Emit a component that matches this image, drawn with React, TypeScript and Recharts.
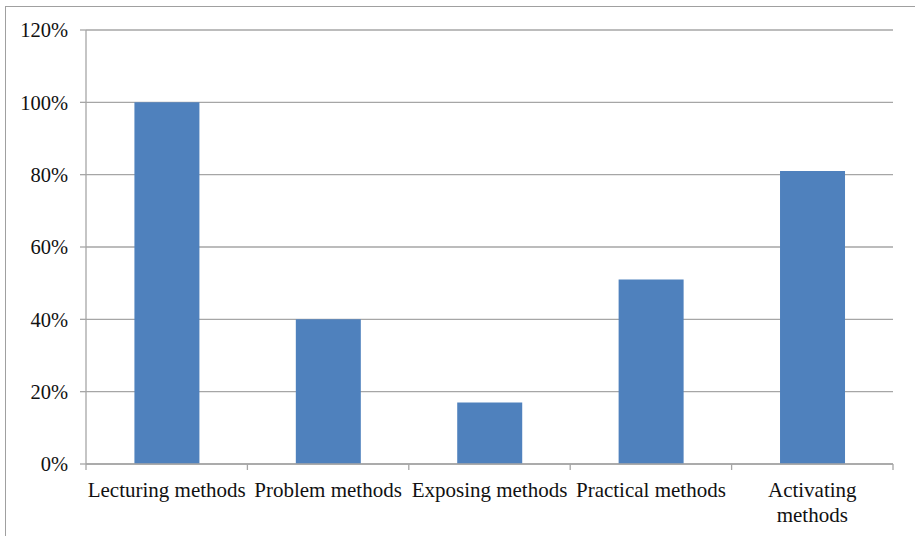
import React from 'react';
import { BarChart, Bar, XAxis, YAxis, CartesianGrid } from 'recharts';

// data
const categories = ['Lecturing methods', 'Problem methods', 'Exposing methods', 'Practical methods', 'Activating methods'];
const shares = [100, 40, 17, 51, 81];
const tickLabels = [['Lecturing methods'], ['Problem methods'], ['Exposing methods'], ['Practical methods'], ['Activating', 'methods']];
const yTicks = [0, 20, 40, 60, 80, 100, 120];

const data = categories.map((name, i) => ({ name, value: shares[i] }));

const FONT = '"Liberation Serif", "DejaVu Serif", serif';
const GRID = '#a6a6a6';

const CategoryTick = (props: any) => {
  const { x, y, payload, index } = props;
  const half = payload && payload.offset ? payload.offset : 80.7;
  const lines = tickLabels[index] || [String(payload.value)];
  return (
    <g>
      <line x1={x - half} x2={x - half} y1={y - 8} y2={y - 2} stroke={GRID} strokeWidth={1.3} />
      {index === categories.length - 1 && (
        <line x1={x + half} x2={x + half} y1={y - 8} y2={y - 2} stroke={GRID} strokeWidth={1.3} />
      )}
      <text x={x} y={y + 25} textAnchor="middle" fontFamily={FONT} fontSize={21} fill="#111">
        {lines.map((l: string, i: number) => (
          <tspan key={i} x={x} dy={i === 0 ? 0 : 25}>{l}</tspan>
        ))}
      </text>
    </g>
  );
};

export default function App() {
  return (
    <div style={{ position: 'absolute', left: 0, top: 0, width: 915, height: 536, background: '#fff', overflow: 'hidden' }}>
      <div style={{ position: 'absolute', left: 5, top: 6, width: 940, height: 560, border: '1.5px solid #a0a0a0' }} />
      <BarChart
        width={915}
        height={536}
        data={data}
        margin={{ top: 30, right: 22, bottom: 0, left: 0 }}
        barCategoryGap="30%"
        style={{ position: 'absolute', left: 0, top: 0 }}
      >
        <CartesianGrid vertical={false} stroke={GRID} strokeWidth={1.3} />
        <XAxis
          dataKey="name"
          height={72}
          interval={0}
          axisLine={{ stroke: GRID, strokeWidth: 1.3 }}
          tickLine={false}
          tick={<CategoryTick />}
        />
        <YAxis
          width={86}
          domain={[0, 120]}
          ticks={yTicks}
          interval={0}
          tickFormatter={(v: number) => `${v}%`}
          axisLine={{ stroke: GRID, strokeWidth: 1.3 }}
          tickLine={{ stroke: GRID, strokeWidth: 1.3 }}
          tickSize={6}
          tickMargin={12}
          tick={{ fontFamily: FONT, fontSize: 20.5, fill: '#111' }}
        />
        <Bar dataKey="value" fill="#4f81bd" isAnimationActive={false} />
      </BarChart>
    </div>
  );
}
